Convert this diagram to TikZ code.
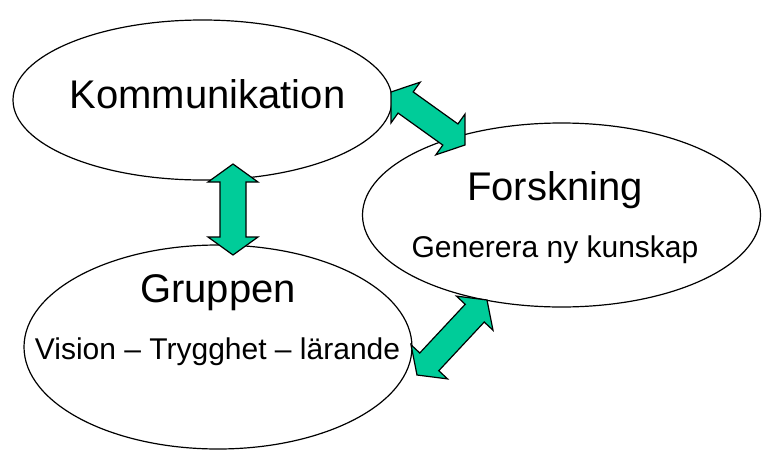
\documentclass[tikz,border=0pt]{standalone}
\usepackage{fontspec}
\setmainfont{Liberation Sans}
\usetikzlibrary{shapes.geometric,calc}
\definecolor{pilgron}{RGB}{0,204,153}
\tikzset{
  bubbla/.style={draw,ellipse,line width=1.2pt,inner sep=0pt},
  rubrik/.style={anchor=base,inner sep=0pt,font=\fontsize{40}{48}\selectfont},
  under/.style={anchor=base,inner sep=0pt,font=\fontsize{30}{36}\selectfont},
  pil/.style={fill=pilgron,draw=black,line width=1.2pt,line join=miter}
}
\newcommand{\dubbelpil}[2]{%
  \draw[pil] (#1) -- ($($(#1)!18pt!(#2)$)!25pt!90:(#2)$) -- ($($(#1)!18pt!(#2)$)!13pt!90:(#2)$)
    -- ($($(#2)!18pt!(#1)$)!13pt!-90:(#1)$) -- ($($(#2)!18pt!(#1)$)!25pt!-90:(#1)$) -- (#2)
    -- ($($(#2)!18pt!(#1)$)!25pt!90:(#1)$) -- ($($(#2)!18pt!(#1)$)!13pt!90:(#1)$)
    -- ($($(#1)!18pt!(#2)$)!13pt!-90:(#2)$) -- ($($(#1)!18pt!(#2)$)!25pt!-90:(#2)$) -- cycle;}
\begin{document}
\begin{tikzpicture}[x=1pt,y=-1pt]
\useasboundingbox (0,0) rectangle (763,450);
\node[bubbla,minimum width=379pt,minimum height=160pt] (komm) at (202.5,100) {};
\node[bubbla,minimum width=398pt,minimum height=184pt] (forsk) at (561.5,215) {};
\node[bubbla,minimum width=388pt,minimum height=204pt] (grupp) at (218,347) {};
\node[rubrik] (kommtxt) at (207.5,108) {Kommunikation};
\node[rubrik] (forsktxt) at (555,200) {Forskning};
\node[under] (forskund) at (555,257) {Generera ny kunskap};
\node[rubrik] (gruppt) at (218,302) {Gruppen};
\node[under] (gruppund) at (217.5,359) {Vision – Trygghet – lärande};
\coordinate (kf1) at (391,92);
\coordinate (kf2) at (465,145);
\coordinate (kg1) at (233,164);
\coordinate (kg2) at (233,255);
\coordinate (gf1) at (417,375);
\coordinate (gf2) at (487,300);
\dubbelpil{kf1}{kf2}
\dubbelpil{kg1}{kg2}
\dubbelpil{gf1}{gf2}
\end{tikzpicture}
\end{document}
